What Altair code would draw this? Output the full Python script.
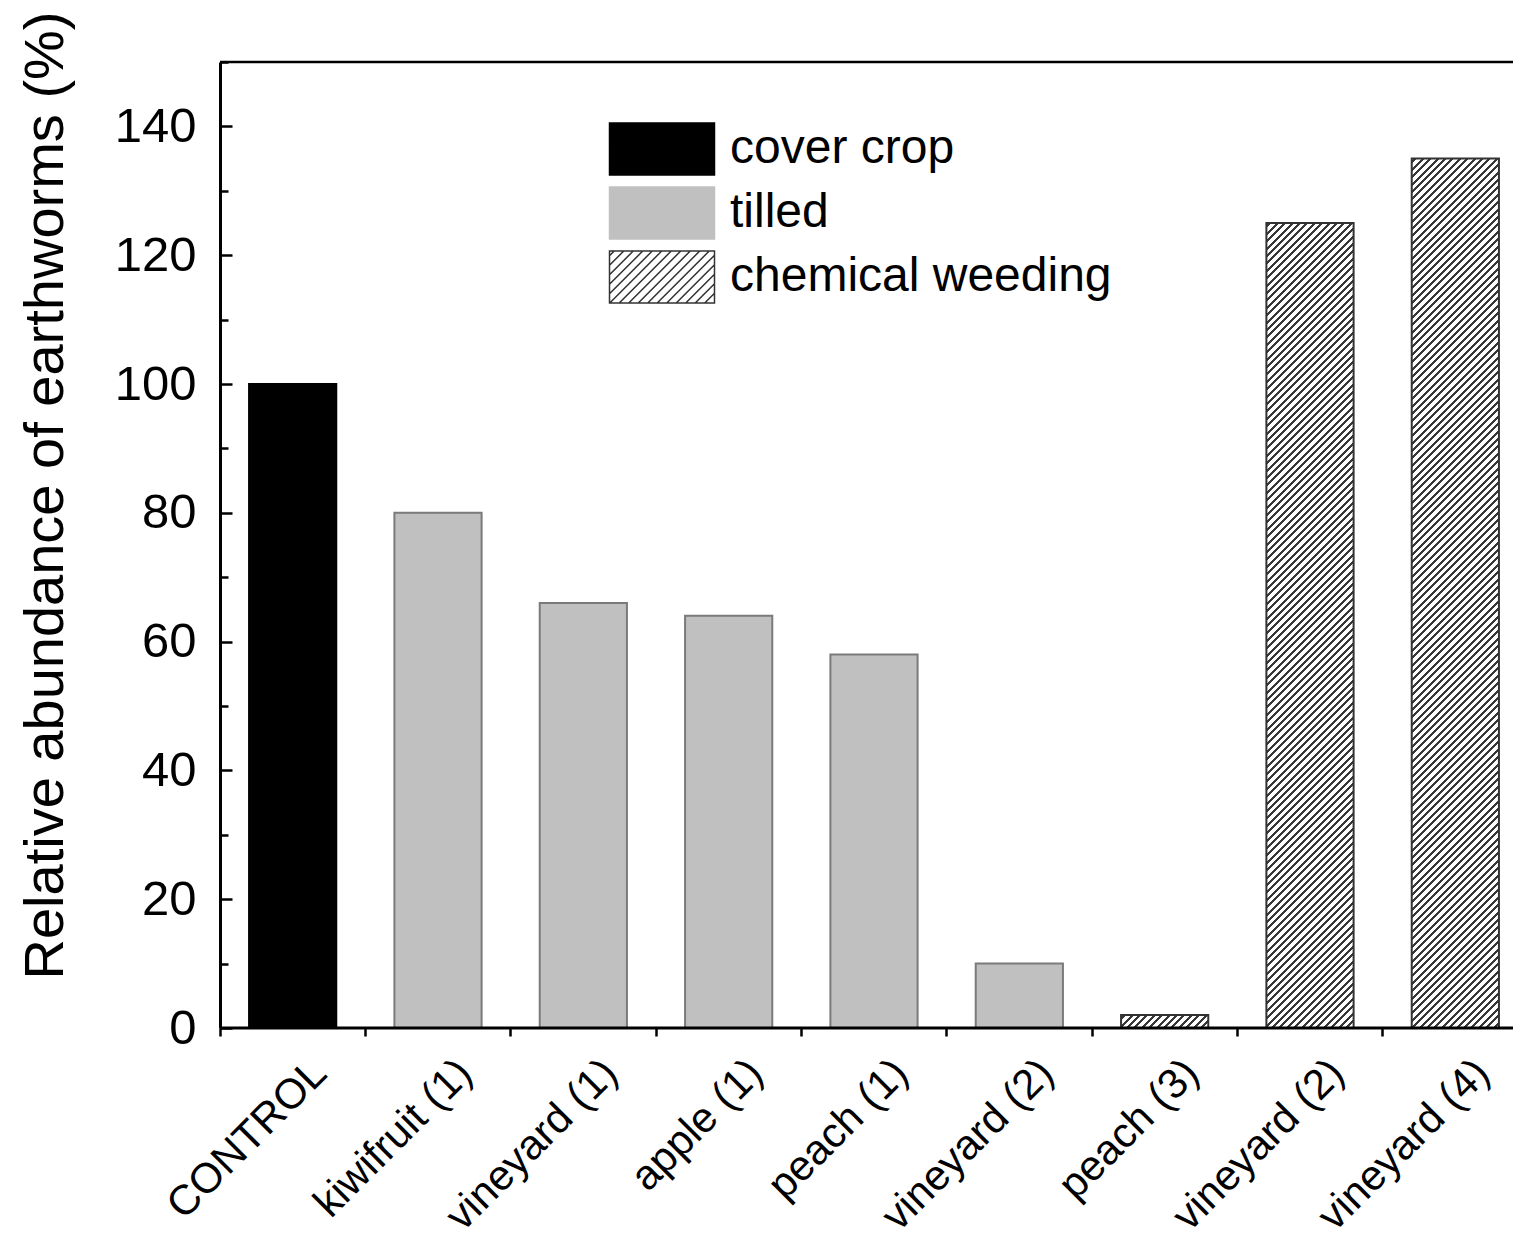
import altair as alt
import pandas as pd

# ---------------- data ----------------
labels = ["CONTROL", "kiwifruit (1)", "vineyard (1)", "apple (1)", "peach (1)",
          "vineyard (2)", "peach (3)", "vineyard (2)", "vineyard (4)"]
values = [100, 80, 66, 64, 58, 10, 2, 125, 135]
types = ["cover crop", "tilled", "tilled", "tilled", "tilled", "tilled",
         "chemical weeding", "chemical weeding", "chemical weeding"]
type_order = ["cover crop", "tilled", "chemical weeding"]
y_major_ticks = [0, 20, 40, 60, 80, 100, 120, 140]
y_minor_ticks = [10, 30, 50, 70, 90, 110, 130, 150]
y_max = 150

keys = [f"{i}|{lab}" for i, lab in enumerate(labels)]
df = pd.DataFrame({"key": keys, "label": labels, "value": values, "type": types})

# ---------------- layout / style ----------------
FONT = "Liberation Sans"
PLOT_W = 1293          # visible plot width (page right margin kept free)
RANGE_W = 1308         # x range (the frame runs off the page, as in the reference)
PLOT_H = 966
BAR_FRAC = 0.6
HATCH_PERIOD = 7.4     # px, measured along x
HATCH_DARK = 3.0
HATCH_COLOR = "#383838"
WHITE = "#ffffff"

fill_colors = ["#000000", "#c0c0c0", "#ffffff"]
stroke_colors = ["#000000", "#c0c0c0", "#333333"]


def hatch_gradient(value):
    """Diagonal '/' hatching as a striped linear gradient in bbox units."""
    w = BAR_FRAC * RANGE_W / len(labels)
    h = value / y_max * PLOT_H
    L = w + h
    k = L / (w * w + h * h)
    stops = [{"offset": 0, "color": WHITE}]
    s = HATCH_PERIOD * 0.35
    while s < L:
        a = round(s / L, 5)
        b = round(min(1.0, (s + HATCH_DARK) / L), 5)
        stops += [{"offset": a, "color": WHITE}, {"offset": a, "color": HATCH_COLOR},
                  {"offset": b, "color": HATCH_COLOR}, {"offset": b, "color": WHITE}]
        s += HATCH_PERIOD
    stops.append({"offset": 1, "color": WHITE})
    return {"gradient": "linear", "x1": 0, "y1": 0,
            "x2": round(k * w, 6), "y2": round(k * h, 6), "stops": stops}


def legend_symbol_path():
    hw = 105 / 52.0
    parts = [f"M{-hw:.3f},-1H{hw:.3f}V1H{-hw:.3f}Z"]
    period = 9.5 / 26.0
    c = -hw - 1 + period / 2
    while c < hw + 1:
        x1 = max(-hw, c - 1)
        x2 = min(hw, c + 1)
        if x2 - x1 > 0.05:
            parts.append(f"M{x1:.3f},{c - x1:.3f}L{x2:.3f},{c - x2:.3f}")
        c += period
    return "".join(parts)


hatch_conditions = [
    {"test": f"datum.key === '{k}'", "value": hatch_gradient(v)}
    for k, v, t in zip(keys, values, types) if t == "chemical weeding"
]

legend = alt.Legend(
    title=None, orient="none", legendX=415, legendY=60, padding=0,
    symbolType=legend_symbol_path(), symbolSize=2704, symbolStrokeWidth=1.5,
    labelFontSize=48, labelFont=FONT, labelColor="black", labelOffset=41,
    rowPadding=6, labelLimit=600,
)

x_enc = alt.X(
    "key:N", sort=keys,
    scale=alt.Scale(domain=keys, range=[0, RANGE_W], paddingInner=0, paddingOuter=0),
    axis=alt.Axis(
        title=None, labelExpr="split(datum.label, '|')[1]",
        labelAngle=315, labelAlign="right", labelBaseline="middle",
        labelFontSize=42, labelFont=FONT, labelColor="black",
        labelOffset=27, labelPadding=30, labelLimit=600,
        bandPosition=0, tickSize=8, tickWidth=2.5, tickColor="black",
        domain=False, grid=False,
    ),
)

y_scale = alt.Scale(domain=[0, y_max], nice=False, zero=True)

bars = alt.Chart(df).mark_bar(width=alt.RelativeBandSize(BAR_FRAC), strokeWidth=2).encode(
    x=x_enc,
    y=alt.Y("value:Q", scale=y_scale,
            axis=alt.Axis(
                orient="left", values=y_major_ticks, ticks=False, tickSize=0,
                labelFontSize=49, labelFont=FONT, labelColor="black", labelPadding=24,
                domainWidth=3, domainColor="black", grid=False,
                title="Relative abundance of earthworms (%)", titleFontSize=56,
                titleFont=FONT, titleFontWeight="normal", titleColor="black",
                titleAngle=270, titleAlign="center", titleBaseline="alphabetic",
                titleX=-158, titleY=433,
            )),
    fill=alt.Fill("type:N", scale=alt.Scale(domain=type_order, range=fill_colors),
                  legend=legend, condition=hatch_conditions),
    stroke=alt.Stroke("type:N", scale=alt.Scale(domain=type_order, range=stroke_colors),
                      legend=legend,
                      condition=[{"test": "datum.type === 'tilled'", "value": "#7a7a7a"}]),
)

top_line = alt.Chart(alt.Data(values=[{"v": y_max}])).mark_rule(
    color="black", strokeWidth=2.5).encode(
    y=alt.Y("v:Q", scale=y_scale,
            axis=alt.Axis(orient="left", values=y_major_ticks, labels=False, domain=False,
                          ticks=True, tickSize=12, tickWidth=2.5, tickColor="black",
                          offset=-12, title=None, grid=False)),
)

base_line = alt.Chart(alt.Data(values=[{"v": 0}])).mark_rule(
    color="black", strokeWidth=3).encode(
    y=alt.Y("v:Q", scale=y_scale,
            axis=alt.Axis(orient="left", values=y_minor_ticks, labels=False, domain=False,
                          ticks=True, tickSize=8, tickWidth=2.5, tickColor="black",
                          offset=-8, title=None, grid=False)),
)

chart = (
    alt.layer(bars, top_line, base_line)
    .resolve_axis(y="independent")
    .properties(
        width=PLOT_W, height=PLOT_H,
        autosize=alt.AutoSizeParams(type="none"),
        padding={"left": 212, "top": 54, "right": 0, "bottom": 213},
    )
    .configure(font=FONT)
    .configure_view(strokeWidth=0)
)

chart.save("out.html", embed_options={"renderer": "svg", "actions": False})
